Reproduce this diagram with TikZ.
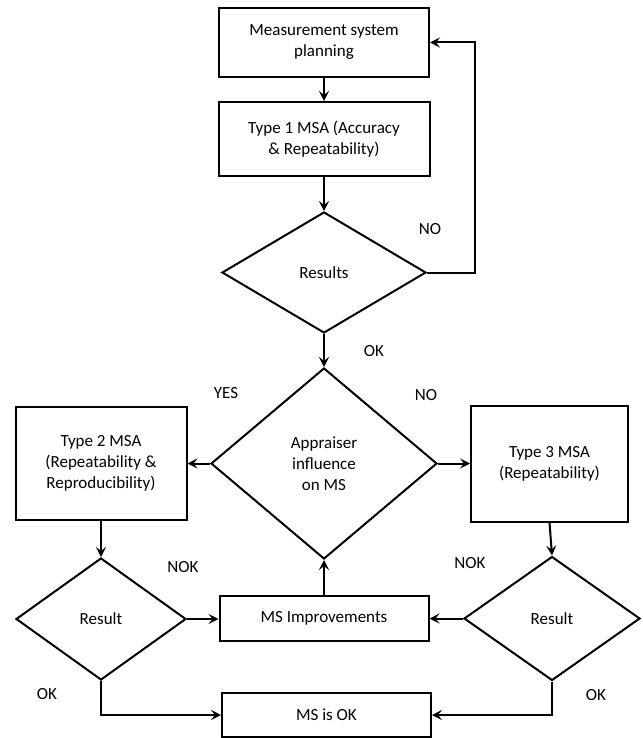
\documentclass[tikz,border=0pt]{standalone}
\usepackage{fontspec}
\setmainfont{Carlito}
\usetikzlibrary{shapes.geometric,arrows.meta}
\newcommand\myfs{\fontsize{17}{21}\selectfont}
\begin{document}
\begin{tikzpicture}[x=1pt,y=-1pt, line width=2pt,
 box/.style={draw, rectangle, inner sep=2pt, align=center, font=\myfs},
 dia/.style={draw, diamond, inner sep=0pt, align=center, font=\myfs},
 lbl/.style={font=\myfs, inner sep=0pt},
 arr/.style={-{Stealth[length=10pt,width=10pt,inset=4pt]}},
]
\useasboundingbox (0,0) rectangle (642,738);
\node[box, minimum width=210pt, minimum height=69pt] (box1) at (324,42.5) {Measurement system\\planning};
\node[box, minimum width=211pt, minimum height=74pt] (box2) at (324,139) {Type 1 MSA (Accuracy\\\& Repeatability)};
\node[dia, minimum width=204pt, minimum height=121pt] (res1) at (324,272.5) {Results};
\node[dia, minimum width=226pt, minimum height=191pt] (app) at (324,463.5) {Appraiser\\influence\\on MS};
\node[box, minimum width=171pt, minimum height=113pt] (t2) at (101,463.5) {Type 2 MSA\\(Repeatability \&\\Reproducibility)};
\node[box, minimum width=157pt, minimum height=116pt] (t3) at (549.5,463.5) {Type 3 MSA\\(Repeatability)};
\node[dia, minimum width=170pt, minimum height=122pt] (r2) at (101,619) {Result};
\node[dia, minimum width=176pt, minimum height=124pt] (r3) at (552,618.5) {Result};
\node[box, minimum width=209pt, minimum height=45pt] (msi) at (324,618.5) {MS Improvements};
\node[box, minimum width=209pt, minimum height=44pt] (ok) at (326.5,715) {MS is OK};
\coordinate (fb) at (475,42.5);
\draw[arr] (box1.south) -- (box2.north);
\draw[arr] (box2.south) -- (res1.north);
\draw[arr] (res1.east) -| (fb) -- (box1.east);
\draw[arr] (res1.south) -- (app.north);
\draw[arr] (app.west) -- (t2.east);
\draw[arr] (app.east) -- (t3.west);
\draw[arr] (t2.south) -- (r2.north);
\draw[arr] (t3.south) -- (r3.north);
\draw[arr] (r2.east) -- (r2.east -| msi.west);
\draw[arr] (r3.west) -- (r3.west -| msi.east);
\draw[arr] (msi.north) -- (app.south);
\draw[arr] (r2.south) |- (ok.west);
\draw[arr] (r3.south) |- (ok.east);
\node[lbl] (lno1) at (430,229) {NO};
\node[lbl] (lok1) at (374,351) {OK};
\node[lbl] (lyes) at (226,393) {YES};
\node[lbl] (lno2) at (426,395) {NO};
\node[lbl] (lnok1) at (183,567) {NOK};
\node[lbl] (lnok2) at (470,563) {NOK};
\node[lbl] (lok2) at (47,694) {OK};
\node[lbl] (lok3) at (596,695) {OK};
\end{tikzpicture}
\end{document}
